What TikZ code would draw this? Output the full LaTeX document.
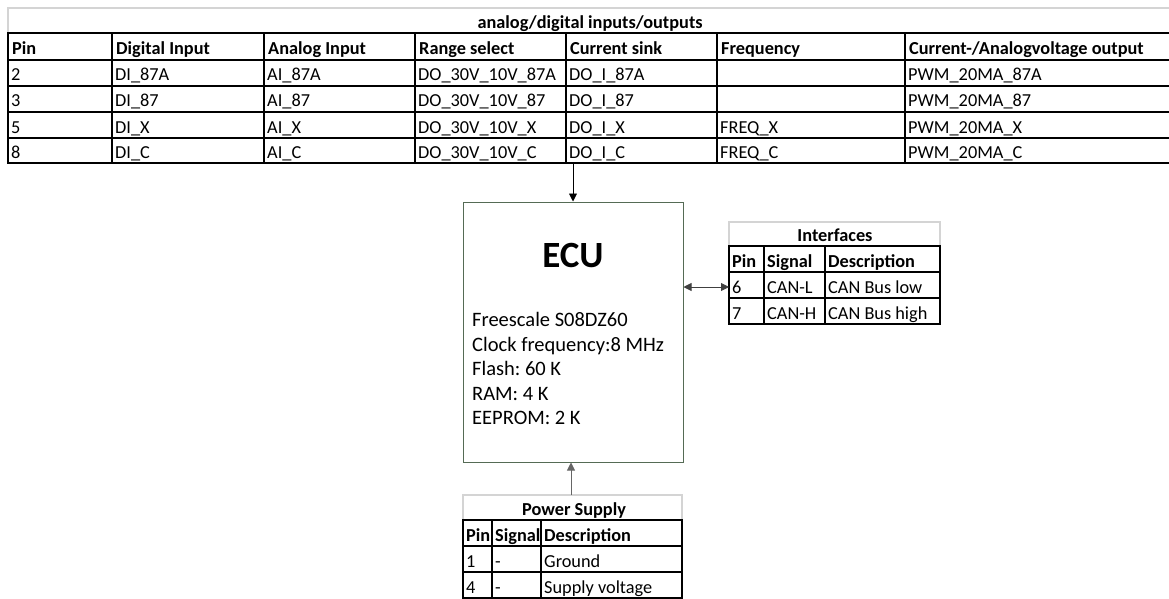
\documentclass[tikz,border=0pt]{standalone}
\usepackage{fontspec}
\setmainfont{Carlito}
\usetikzlibrary{arrows.meta}
\frenchspacing

\definecolor{ecuframe}{RGB}{85,107,85}
\definecolor{lightframe}{RGB}{212,212,212}

\tikzset{
  cell/.style={anchor=base west, inner sep=0pt, font=\fontsize{18.3}{20}\selectfont},
  headcell/.style={cell, font=\fontsize{18.3}{20}\selectfont\bfseries},
  titlecell/.style={anchor=base, inner sep=0pt, font=\fontsize{18.3}{20}\selectfont\bfseries},
  ecutext/.style={anchor=base west, inner sep=0pt, font=\fontsize{20.5}{24}\selectfont},
  tabline/.style={line width=2.3pt, line cap=rect},
  titleline/.style={draw=lightframe, line width=1.6pt},
}

\begin{document}
\begin{tikzpicture}[x=1pt,y=-1pt,>={Triangle[length=8pt,width=8pt]}]
  \useasboundingbox (0,0) rectangle (1169,599);

  % analog/digital inputs/outputs
  \draw[titleline] (8,33) -- (8,8) -- (1169,8);
  \node[titlecell] (iotitle) at (590,29) {analog/digital inputs/outputs};
  \foreach \y in {33,60,86,112,138,163} \draw[tabline] (8,\y) -- (1169,\y);
  \foreach \x in {8,112,264,415,566,717,905} \draw[tabline] (\x,33) -- (\x,163);
  \foreach \x/\t in {8/Pin,112/Digital Input,264/Analog Input,415/Range select,566/Current sink,717/Frequency,905/{Current-/Analogvoltage output}}
    \node[headcell] (iohead-\x) at (\x+4,55) {\t};
  \foreach \y/\p/\di/\ai/\rs/\cs/\fr/\pw in {
      81/2/DI\_87A/AI\_87A/DO\_30V\_10V\_87A/DO\_I\_87A/{}/PWM\_20MA\_87A,
      107/3/DI\_87/AI\_87/DO\_30V\_10V\_87/DO\_I\_87/{}/PWM\_20MA\_87,
      133/5/DI\_X/AI\_X/DO\_30V\_10V\_X/DO\_I\_X/FREQ\_X/PWM\_20MA\_X,
      158/8/DI\_C/AI\_C/DO\_30V\_10V\_C/DO\_I\_C/FREQ\_C/PWM\_20MA\_C}{
    \node[cell] (io-\p-1) at (11,\y) {\p};
    \node[cell] (io-\p-2) at (115,\y) {\di};
    \node[cell] (io-\p-3) at (267,\y) {\ai};
    \node[cell] (io-\p-4) at (418,\y) {\rs};
    \node[cell] (io-\p-5) at (569,\y) {\cs};
    \node[cell] (io-\p-6) at (720,\y) {\fr};
    \node[cell] (io-\p-7) at (908,\y) {\pw};
  }
  \coordinate (iobottom) at (573,163);

  % ECU
  \node[draw=ecuframe, line width=1pt, minimum width=220, minimum height=260] (ecu) at (573,332) {};
  \node[anchor=base, inner sep=0pt, font=\fontsize{37}{42}\selectfont\bfseries] (ecutitle) at (573,267) {ECU};
  \foreach \t [count=\i] in {Freescale S08DZ60,Clock frequency:8 MHz,Flash: 60 K,RAM: 4 K,EEPROM: 2 K}
    \node[ecutext] (eculine\i) at (472,{302.4+24.4*\i}) {\t};

  % Interfaces
  \draw[titleline] (729,246) -- (729,222) -- (940,222) -- (940,246);
  \node[titlecell] (iftitle) at (835,241) {Interfaces};
  \foreach \y in {246,272,298,324} \draw[tabline] (729,\y) -- (940,\y);
  \foreach \x in {729,764,825,940} \draw[tabline] (\x,246) -- (\x,324);
  \foreach \y/\p/\s/\d in {267/Pin/Signal/Description}{
    \node[headcell] (ifhead-1) at (732,\y) {\p};
    \node[headcell] (ifhead-2) at (767,\y) {\s};
    \node[headcell] (ifhead-3) at (828,\y) {\d};
  }
  \foreach \y/\p/\s/\d in {293/6/CAN-L/CAN Bus low,319/7/CAN-H/CAN Bus high}{
    \node[cell] (if-\p-1) at (732,\y) {\p};
    \node[cell] (if-\p-2) at (767,\y) {\s};
    \node[cell] (if-\p-3) at (828,\y) {\d};
  }
  \coordinate (ifin) at (729,287);

  % Power Supply
  \draw[titleline] (463,520) -- (463,495) -- (682,495) -- (682,520);
  \node[titlecell] (pstitle) at (574,515) {Power Supply};
  \foreach \y in {520,546,572,598} \draw[tabline] (463,\y) -- (682,\y);
  \foreach \x in {463,492,541,682} \draw[tabline] (\x,520) -- (\x,598);
  \node[headcell] (pshead-1) at (466,541) {Pin};
  \node[headcell] (pshead-2) at (495,541) {Signal};
  \node[headcell] (pshead-3) at (544,541) {Description};
  \foreach \y/\p/\d in {567/1/Ground,593/4/Supply voltage}{
    \node[cell] (ps-\p-1) at (466,\y) {\p};
    \node[cell] (ps-\p-2) at (495,\y) {-};
    \node[cell] (ps-\p-3) at (544,\y) {\d};
  }
  \coordinate (psout) at (571,495);

  % connections
  \draw[->, line width=0.9pt] (iobottom) -- (ecu.north);
  \draw[<->, line width=0.9pt, draw=black!75] (ecu.east |- ifin) -- (ifin);
  \draw[->, line width=0.9pt, draw=black!60] (psout) -- (psout |- ecu.south);
\end{tikzpicture}
\end{document}
